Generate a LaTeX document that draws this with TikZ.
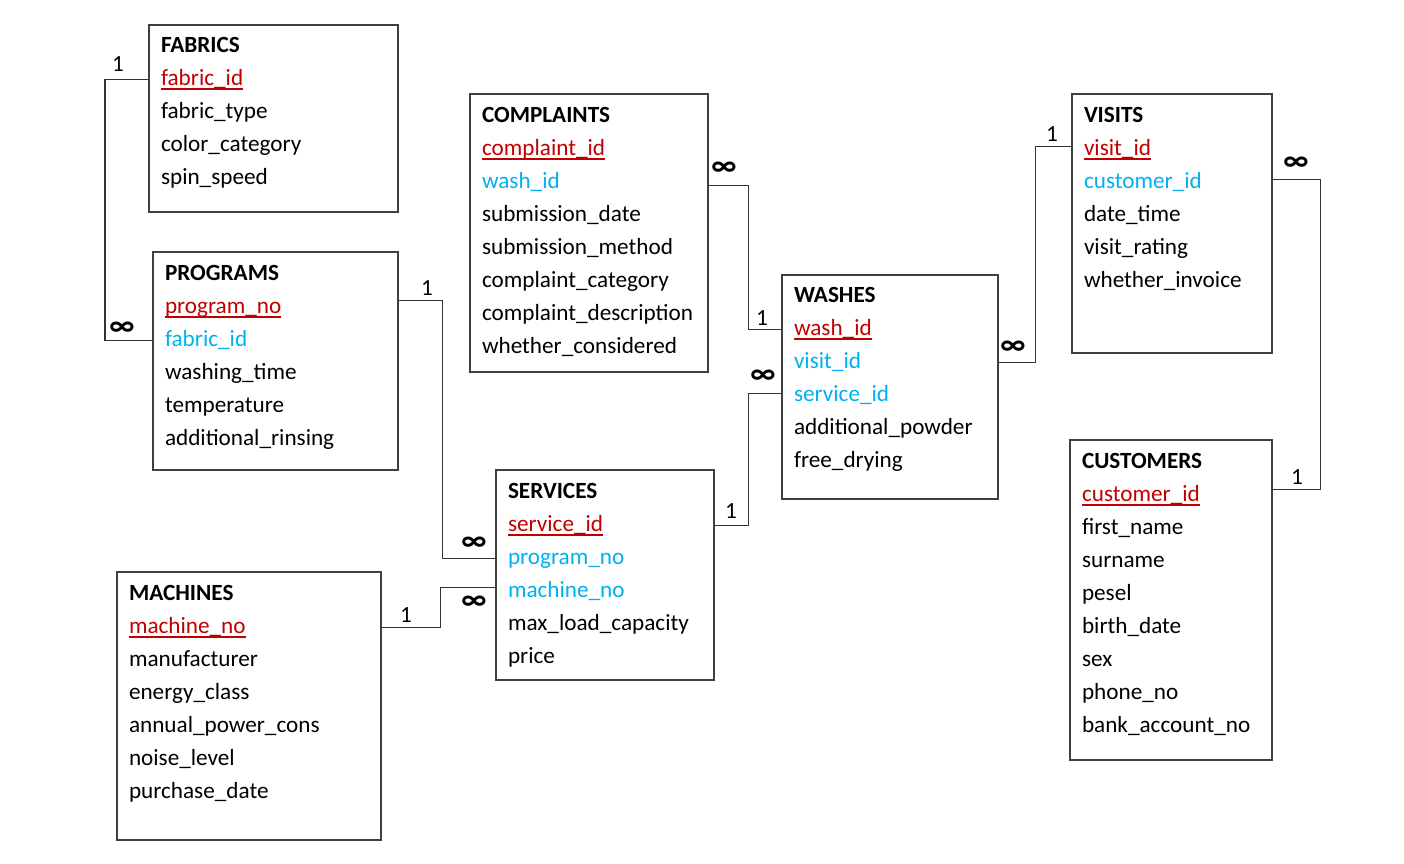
\documentclass[tikz,border=0pt]{standalone}
\usepackage{fontspec}
\setmainfont{Carlito}
\usepackage{tikz}
\usetikzlibrary{positioning}
\usetikzlibrary{calc}

\definecolor{keyred}{RGB}{192,0,0}
\definecolor{fkblue}{RGB}{0,176,240}
\newcommand{\pkey}[1]{\setbox0\hbox{#1}\rlap{\rule[-2.4pt]{\wd0}{0.8pt}}\box0}

\tikzset{
  entbox/.style={draw=black!75, line width=0.75pt, anchor=north west, inner sep=0pt},
  row/.style={anchor=north west, inner sep=0pt, outer sep=0pt, text height=11pt, text depth=5.5pt,
    font=\fontsize{11.6}{16.5}\selectfont},
  head/.style={row, font=\fontsize{11.6}{16.5}\selectfont\bfseries},
  pk/.style={row, text=keyred},
  fk/.style={row, text=fkblue},
  link/.style={draw=black!80, line width=0.65pt},
  card/.style={inner sep=0pt, font=\fontsize{11.6}{14}\selectfont},
  many/.style={card, font=\fontsize{15}{16}\selectfont\bfseries},
}

\begin{document}
\begin{tikzpicture}[x=0.5pt, y=-0.5pt]
    \useasboundingbox (0,0) rectangle (1404,863);
    % tables %
    \node[entbox, minimum width=124.5pt, minimum height=93.5pt] (fabrics) at (148,24) {};
    \node[head, below right=3pt and 6.5pt of fabrics.north west] (fab0) {FABRICS};
    \node[pk] (fab1) at (fab0.south west) {\pkey{fabric\_id}};
    \node[row] (fab2) at (fab1.south west) {fabric\_type};
    \node[row] (fab3) at (fab2.south west) {color\_category};
    \node[row] (fab4) at (fab3.south west) {spin\_speed};

    \node[entbox, minimum width=122.5pt, minimum height=109pt] (programs) at (152,251) {};
    \node[head, below right=3.5pt and 6.5pt of programs.north west] (pr0) {PROGRAMS};
    \node[pk] (pr1) at (pr0.south west) {\pkey{program\_no}};
    \node[fk] (pr2) at (pr1.south west) {fabric\_id};
    \node[row] (pr3) at (pr2.south west) {washing\_time};
    \node[row] (pr4) at (pr3.south west) {temperature};
    \node[row] (pr5) at (pr4.south west) {additional\_rinsing};

    \node[entbox, minimum width=119pt, minimum height=139pt] (complaints) at (469,93) {};
    \node[head, below right=3.5pt and 6.5pt of complaints.north west] (cp0) {COMPLAINTS};
    \node[pk] (cp1) at (cp0.south west) {\pkey{complaint\_id}};
    \node[fk] (cp2) at (cp1.south west) {wash\_id};
    \node[row] (cp3) at (cp2.south west) {submission\_date};
    \node[row] (cp4) at (cp3.south west) {submission\_method};
    \node[row] (cp5) at (cp4.south west) {complaint\_category};
    \node[row] (cp6) at (cp5.south west) {complaint\_description};
    \node[row] (cp7) at (cp6.south west) {whether\_considered};

    \node[entbox, minimum width=108pt, minimum height=112pt] (washes) at (781,274) {};
    \node[head, below right=3pt and 6.5pt of washes.north west] (ws0) {WASHES};
    \node[pk] (ws1) at (ws0.south west) {\pkey{wash\_id}};
    \node[fk] (ws2) at (ws1.south west) {visit\_id};
    \node[fk] (ws3) at (ws2.south west) {service\_id};
    \node[row] (ws4) at (ws3.south west) {additional\_powder};
    \node[row] (ws5) at (ws4.south west) {free\_drying};

    \node[entbox, minimum width=100pt, minimum height=129.5pt] (visits) at (1071,93) {};
    \node[head, below right=3.5pt and 6.5pt of visits.north west] (vs0) {VISITS};
    \node[pk] (vs1) at (vs0.south west) {\pkey{visit\_id}};
    \node[fk] (vs2) at (vs1.south west) {customer\_id};
    \node[row] (vs3) at (vs2.south west) {date\_time};
    \node[row] (vs4) at (vs3.south west) {visit\_rating};
    \node[row] (vs5) at (vs4.south west) {whether\_invoice};

    \node[entbox, minimum width=101pt, minimum height=160pt] (customers) at (1069,439) {};
    \node[head, below right=3.5pt and 6.5pt of customers.north west] (cu0) {CUSTOMERS};
    \node[pk] (cu1) at (cu0.south west) {\pkey{customer\_id}};
    \node[row] (cu2) at (cu1.south west) {first\_name};
    \node[row] (cu3) at (cu2.south west) {surname};
    \node[row] (cu4) at (cu3.south west) {pesel};
    \node[row] (cu5) at (cu4.south west) {birth\_date};
    \node[row] (cu6) at (cu5.south west) {sex};
    \node[row] (cu7) at (cu6.south west) {phone\_no};
    \node[row] (cu8) at (cu7.south west) {bank\_account\_no};

    \node[entbox, minimum width=109pt, minimum height=105pt] (services) at (495,469) {};
    \node[head, below right=3.5pt and 6.5pt of services.north west] (sv0) {SERVICES};
    \node[pk] (sv1) at (sv0.south west) {\pkey{service\_id}};
    \node[fk] (sv2) at (sv1.south west) {program\_no};
    \node[fk] (sv3) at (sv2.south west) {machine\_no};
    \node[row] (sv4) at (sv3.south west) {max\_load\_capacity};
    \node[row] (sv5) at (sv4.south west) {price};

    \node[entbox, minimum width=132pt, minimum height=134pt] (machines) at (116,571) {};
    \node[head, below right=3.5pt and 6.5pt of machines.north west] (mc0) {MACHINES};
    \node[pk] (mc1) at (mc0.south west) {\pkey{machine\_no}};
    \node[row] (mc2) at (mc1.south west) {manufacturer};
    \node[row] (mc3) at (mc2.south west) {energy\_class};
    \node[row] (mc4) at (mc3.south west) {annual\_power\_cons};
    \node[row] (mc5) at (mc4.south west) {noise\_level};
    \node[row] (mc6) at (mc5.south west) {purchase\_date};
    % relations %
    \draw[link] (fabrics.west |- fab1) -- ++(-43,0) |- (programs.west |- pr2);
    \draw[link] ($(programs.east |- pr1)+(0,-7)$) -- ++(44,0) |- (services.west |- sv2);
    \draw[link] (machines.east |- mc1) -- ++(59,0) |- ($(services.west |- sv3)+(0,-4)$);
    \draw[link] (services.east |- sv1) -- ++(34,0) |- ($(washes.west |- ws3)+(0,-2)$);
    \draw[link] ($(complaints.east |- cp2)+(0,3)$) -- ++(40,0) |- (washes.west |- ws1);
    \draw[link] (washes.east |- ws2) -- ++(37,0) |- ($(visits.west |- vs1)+(0,-3)$);
    \draw[link] ($(visits.east |- vs2)+(0,-3)$) -- ++(48,0) |- ($(customers.east |- cu1)+(0,-6)$);
    % cardinalities %
    \node[card] (n1) at (118,64) {1};
    \node[many] (m1) at (122,329) {∞};
    \node[card] (n2) at (427,288) {1};
    \node[many] (m2) at (474,544) {∞};
    \node[card] (n3) at (406,615) {1};
    \node[many] (m3) at (474,603) {∞};
    \node[card] (n4) at (731,511) {1};
    \node[many] (m4) at (763,377) {∞};
    \node[many] (m5) at (724,169) {∞};
    \node[card] (n5) at (762,318) {1};
    \node[many] (m6) at (1013,348) {∞};
    \node[card] (n6) at (1052,134) {1};
    \node[many] (m7) at (1296,164) {∞};
    \node[card] (n7) at (1297,477) {1};
  \end{tikzpicture}
\end{document}
